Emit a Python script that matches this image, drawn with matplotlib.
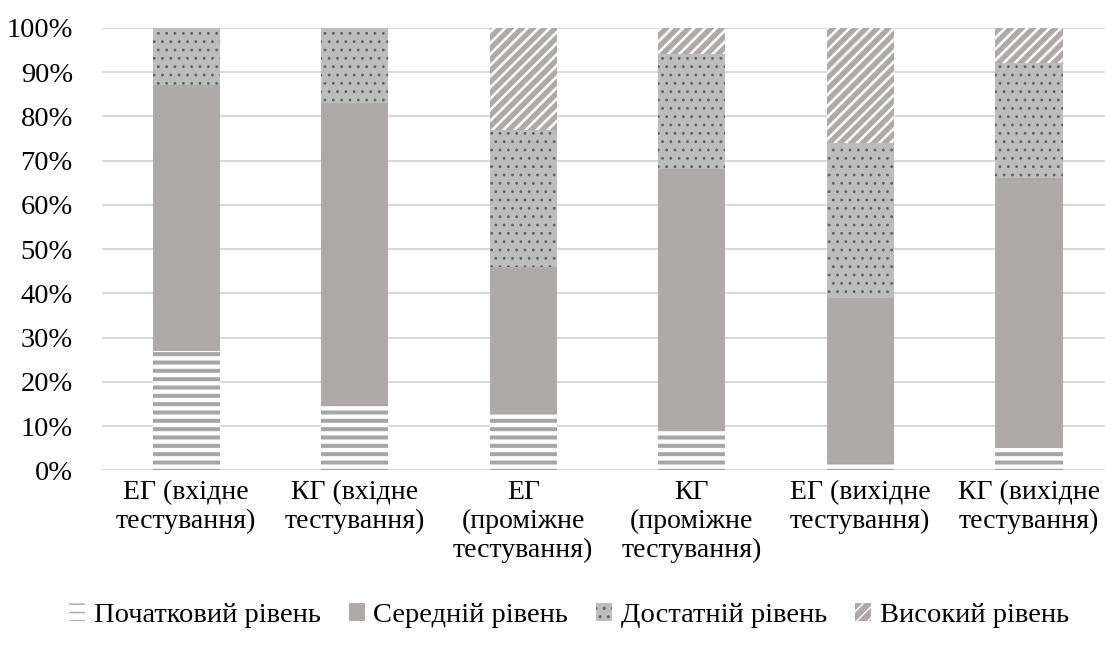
import numpy as np
import matplotlib
matplotlib.use("Agg")
import matplotlib.pyplot as plt

plt.rcParams["font.family"] = ["Liberation Serif", "DejaVu Serif"]
plt.rcParams["font.size"] = 20.5

categories = [
    "ЕГ (вхідне\nтестування)",
    "КГ (вхідне\nтестування)",
    "ЕГ\n(проміжне\nтестування)",
    "КГ\n(проміжне\nтестування)",
    "ЕГ (вихідне\nтестування)",
    "КГ (вихідне\nтестування)",
]
series_names = ["Початковий рівень", "Середній рівень", "Достатній рівень", "Високий рівень"]
pochatkovyi = [27, 15, 13, 9, 2, 5]
serednii = [60, 68, 33, 59, 37, 61]
dostatnii = [13, 17, 31, 26, 35, 26]
vysokyi = [0, 0, 23, 6, 26, 8]

# (face, hatch colour, hatch, hatch linewidth)
styles = [
    ("white", "#a6a6a6", "--", 2.9),
    ("#aeaaaa", "#aeaaaa", None, 1.0),
    ("#bdbdbd", "#606060", "..", 0.8),
    ("#aeaaaa", "white", "///", 1.8),
]

fig = plt.figure(figsize=(11.05, 6.48), dpi=100)
ax = fig.add_axes([0.0923, 0.274, 0.915, 0.683])

x = np.arange(len(categories))
bottom = np.zeros(len(categories))
handles = []
for name, vals, (fc, hc, hatch, hlw) in zip(
        series_names, [pochatkovyi, serednii, dostatnii, vysokyi], styles):
    with plt.rc_context({"hatch.linewidth": hlw}):
        b = ax.bar(x, vals, 0.4, bottom=bottom, facecolor=fc, edgecolor=hc,
                   hatch=hatch, linewidth=0, label=name, zorder=3)
    handles.append(b)
    bottom += np.array(vals)

ax.set_ylim(0, 100)
ax.set_xlim(-0.5, 5.5)
ax.set_yticks(np.arange(0, 101, 10))
ax.set_yticklabels([f"{v}%" for v in range(0, 101, 10)])
ax.set_xticks(x)
ax.set_xticklabels(categories, linespacing=1.2, fontsize=20)
ax.tick_params(length=0)
ax.tick_params(axis="x", pad=7)
ax.tick_params(axis="y", pad=21)
ax.grid(axis="y", color="#d9d9d9", linewidth=1.5, zorder=0)
for s in ["top", "right", "left", "bottom"]:
    ax.spines[s].set_visible(False)

fig.legend(handles, series_names, loc="center", bbox_to_anchor=(0.515, 0.05),
           ncol=4, frameon=False, fontsize=20.5, handlelength=0.55, handleheight=0.6,
           handletextpad=0.3, columnspacing=1.0)

fig.savefig("out.png", dpi=100)
